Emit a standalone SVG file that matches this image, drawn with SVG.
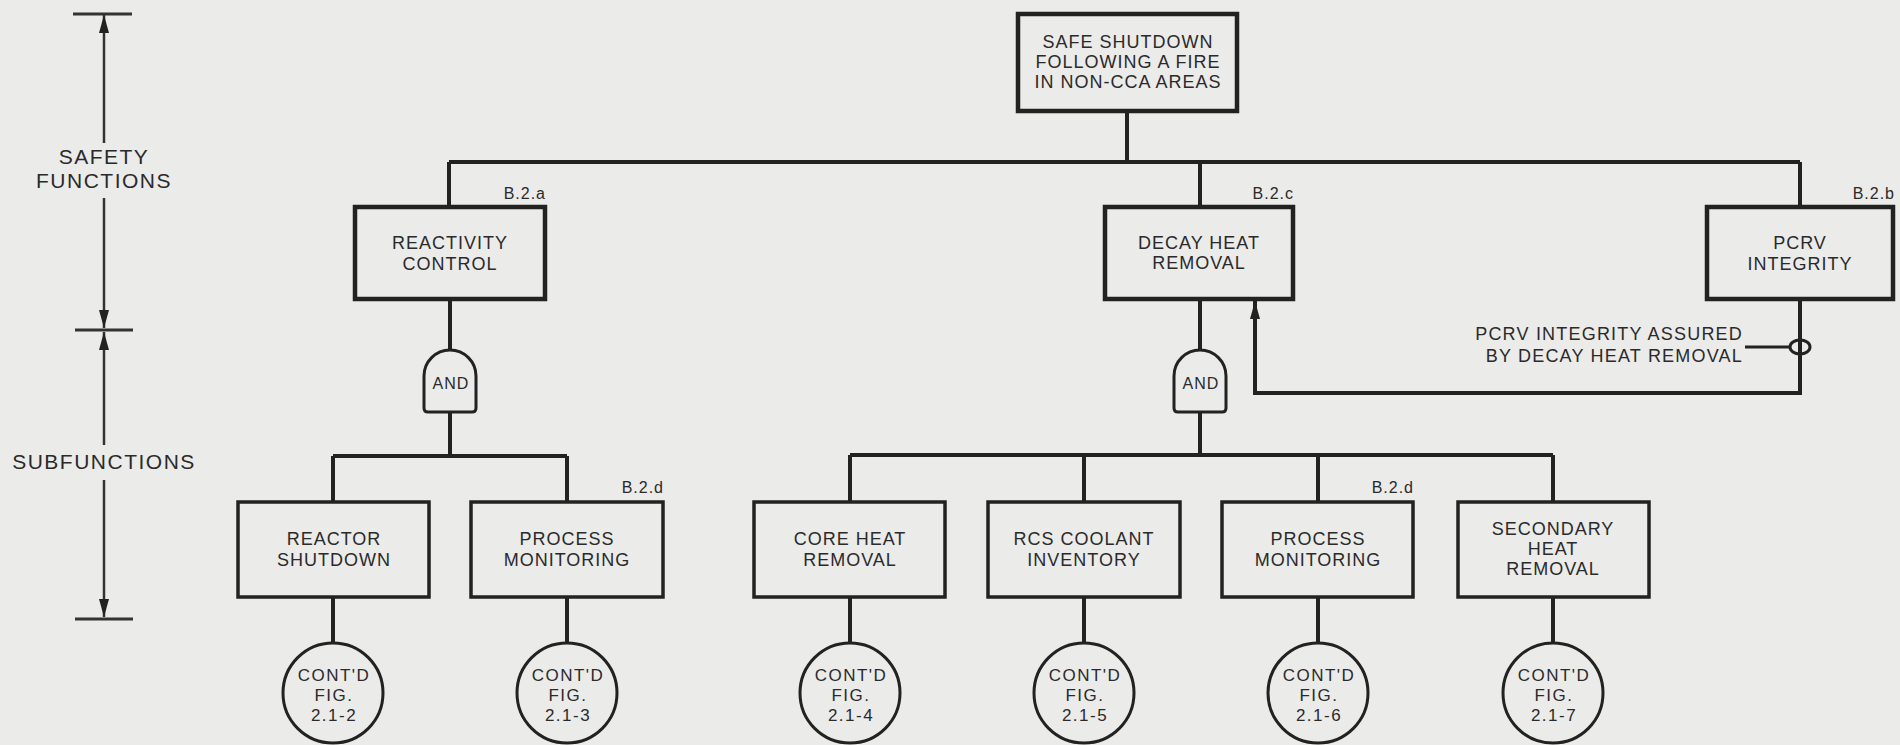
<svg xmlns="http://www.w3.org/2000/svg" width="1900" height="745" viewBox="0 0 1900 745">
<defs>
<marker id="arr" viewBox="0 0 18 10" refX="18" refY="5" markerWidth="18" markerHeight="10" markerUnits="userSpaceOnUse" orient="auto-start-reverse"><path d="M0,0 L18,5 L0,10 z" fill="#222"/></marker>
<style>
.bg{fill:#ebebea}
.box1{fill:none;stroke:#222;stroke-width:4.5}
.box2{fill:none;stroke:#222;stroke-width:3.5}
.conn{fill:none;stroke:#222;stroke-width:4}
.dim{fill:none;stroke:#333;stroke-width:2.5}
.tick{fill:none;stroke:#333;stroke-width:3}
.gate{fill:none;stroke:#222;stroke-width:3}
.circ{fill:none;stroke:#222;stroke-width:3}
text{font-family:"Liberation Sans",Arial,sans-serif;fill:#2a2a2a;text-anchor:middle}
.t{font-size:18px;letter-spacing:1px}
.ref{font-size:16px;letter-spacing:1px;text-anchor:end}
.c{font-size:17px;letter-spacing:1.5px}
.g{font-size:16px;letter-spacing:1px}
.side{font-size:21px;letter-spacing:1.5px}
.note{font-size:18px;letter-spacing:1.2px;text-anchor:end}
</style>
</defs>
<rect class="bg" x="0" y="0" width="1900" height="745"/>

<g id="dimension">
<line class="tick" x1="73" y1="14" x2="132" y2="14"/>
<line class="dim" x1="104" y1="143" x2="104" y2="15" marker-end="url(#arr)"/>
<text class="side" x="104" y="164">SAFETY</text>
<text class="side" x="104" y="188">FUNCTIONS</text>
<line class="dim" x1="104" y1="198" x2="104" y2="328" marker-end="url(#arr)"/>
<line class="tick" x1="75" y1="330" x2="133" y2="330"/>
<line class="dim" x1="104" y1="445" x2="104" y2="332" marker-end="url(#arr)"/>
<text class="side" x="104" y="469">SUBFUNCTIONS</text>
<line class="dim" x1="104" y1="480" x2="104" y2="617" marker-end="url(#arr)"/>
<line class="tick" x1="75" y1="619" x2="133" y2="619"/>
</g>

<g id="connectors">
<path class="conn" d="M1127,111 V162"/>
<path class="conn" d="M449,162 H1800"/>
<path class="conn" d="M449,162 V207"/>
<path class="conn" d="M1200,162 V207"/>
<path class="conn" d="M1800,162 V207"/>
<path class="conn" d="M450,299 V350"/>
<path class="conn" d="M450,412 V456"/>
<path class="conn" d="M333,456 H567"/>
<path class="conn" d="M333,456 V502"/>
<path class="conn" d="M567,456 V502"/>
<path class="conn" d="M1200,299 V350"/>
<path class="conn" d="M1200,412 V455"/>
<path class="conn" d="M850,455 H1553"/>
<path class="conn" d="M850,455 V502"/>
<path class="conn" d="M1084,455 V502"/>
<path class="conn" d="M1318,455 V502"/>
<path class="conn" d="M1553,455 V502"/>
<path class="conn" d="M333,597 V643"/>
<path class="conn" d="M567,597 V643"/>
<path class="conn" d="M850,597 V643"/>
<path class="conn" d="M1084,597 V643"/>
<path class="conn" d="M1318,597 V643"/>
<path class="conn" d="M1553,597 V643"/>
<path class="conn" d="M1800,299 V393 H1255 V301" marker-end="url(#arr)"/>
<ellipse class="circ" cx="1800" cy="347" rx="10" ry="7"/>
<path class="conn" d="M1745,347 H1790" style="stroke-width:3"/>
</g>

<g id="note">
<text class="note" x="1743" y="340">PCRV INTEGRITY ASSURED</text>
<text class="note" x="1743" y="362">BY DECAY HEAT REMOVAL</text>
</g>

<g id="top">
<rect class="box1" x="1018" y="14" width="219" height="97"/>
<text class="t" x="1128" y="48">SAFE SHUTDOWN</text>
<text class="t" x="1128" y="68">FOLLOWING A FIRE</text>
<text class="t" x="1128" y="88">IN NON-CCA AREAS</text>
</g>

<g id="reactivity">
<rect class="box1" x="355" y="207" width="190" height="92"/>
<text class="ref" x="546" y="199">B.2.a</text>
<text class="t" x="450" y="249">REACTIVITY</text>
<text class="t" x="450" y="270">CONTROL</text>
</g>

<g id="decay">
<rect class="box1" x="1105" y="207" width="188" height="92"/>
<text class="ref" x="1294" y="199">B.2.c</text>
<text class="t" x="1199" y="249">DECAY HEAT</text>
<text class="t" x="1199" y="269">REMOVAL</text>
</g>

<g id="pcrv">
<rect class="box1" x="1707" y="207" width="186" height="92"/>
<text class="ref" x="1895" y="199">B.2.b</text>
<text class="t" x="1800" y="249">PCRV</text>
<text class="t" x="1800" y="270">INTEGRITY</text>
</g>

<g id="and1">
<path class="gate" d="M424,376 V408 Q424,412 428,412 H472 Q476,412 476,408 V376 A26,26 0 0 0 424,376 Z"/>
<text class="g" x="451" y="389">AND</text>
</g>

<g id="and2">
<path class="gate" d="M1174,376 V408 Q1174,412 1178,412 H1222 Q1226,412 1226,408 V376 A26,26 0 0 0 1174,376 Z"/>
<text class="g" x="1201" y="389">AND</text>
</g>

<g id="reactor-shutdown">
<rect class="box2" x="238" y="502" width="191" height="95"/>
<text class="t" x="334" y="545">REACTOR</text>
<text class="t" x="334" y="566">SHUTDOWN</text>
</g>

<g id="process-monitoring-1">
<rect class="box2" x="471" y="502" width="192" height="95"/>
<text class="ref" x="664" y="493">B.2.d</text>
<text class="t" x="567" y="545">PROCESS</text>
<text class="t" x="567" y="566">MONITORING</text>
</g>

<g id="core-heat">
<rect class="box2" x="754" y="502" width="191" height="95"/>
<text class="t" x="850" y="545">CORE HEAT</text>
<text class="t" x="850" y="566">REMOVAL</text>
</g>

<g id="rcs">
<rect class="box2" x="988" y="502" width="192" height="95"/>
<text class="t" x="1084" y="545">RCS COOLANT</text>
<text class="t" x="1084" y="566">INVENTORY</text>
</g>

<g id="process-monitoring-2">
<rect class="box2" x="1222" y="502" width="191" height="95"/>
<text class="ref" x="1414" y="493">B.2.d</text>
<text class="t" x="1318" y="545">PROCESS</text>
<text class="t" x="1318" y="566">MONITORING</text>
</g>

<g id="secondary">
<rect class="box2" x="1458" y="502" width="191" height="95"/>
<text class="t" x="1553" y="535">SECONDARY</text>
<text class="t" x="1553" y="555">HEAT</text>
<text class="t" x="1553" y="575">REMOVAL</text>
</g>

<g id="cont-2">
<circle class="circ" cx="333" cy="693" r="50"/>
<text class="c" x="334" y="681">CONT'D</text>
<text class="c" x="334" y="701">FIG.</text>
<text class="c" x="334" y="721">2.1-2</text>
</g>
<g id="cont-3">
<circle class="circ" cx="567" cy="693" r="50"/>
<text class="c" x="568" y="681">CONT'D</text>
<text class="c" x="568" y="701">FIG.</text>
<text class="c" x="568" y="721">2.1-3</text>
</g>
<g id="cont-4">
<circle class="circ" cx="850" cy="693" r="50"/>
<text class="c" x="851" y="681">CONT'D</text>
<text class="c" x="851" y="701">FIG.</text>
<text class="c" x="851" y="721">2.1-4</text>
</g>
<g id="cont-5">
<circle class="circ" cx="1084" cy="693" r="50"/>
<text class="c" x="1085" y="681">CONT'D</text>
<text class="c" x="1085" y="701">FIG.</text>
<text class="c" x="1085" y="721">2.1-5</text>
</g>
<g id="cont-6">
<circle class="circ" cx="1318" cy="693" r="50"/>
<text class="c" x="1319" y="681">CONT'D</text>
<text class="c" x="1319" y="701">FIG.</text>
<text class="c" x="1319" y="721">2.1-6</text>
</g>
<g id="cont-7">
<circle class="circ" cx="1553" cy="693" r="50"/>
<text class="c" x="1554" y="681">CONT'D</text>
<text class="c" x="1554" y="701">FIG.</text>
<text class="c" x="1554" y="721">2.1-7</text>
</g>
</svg>
